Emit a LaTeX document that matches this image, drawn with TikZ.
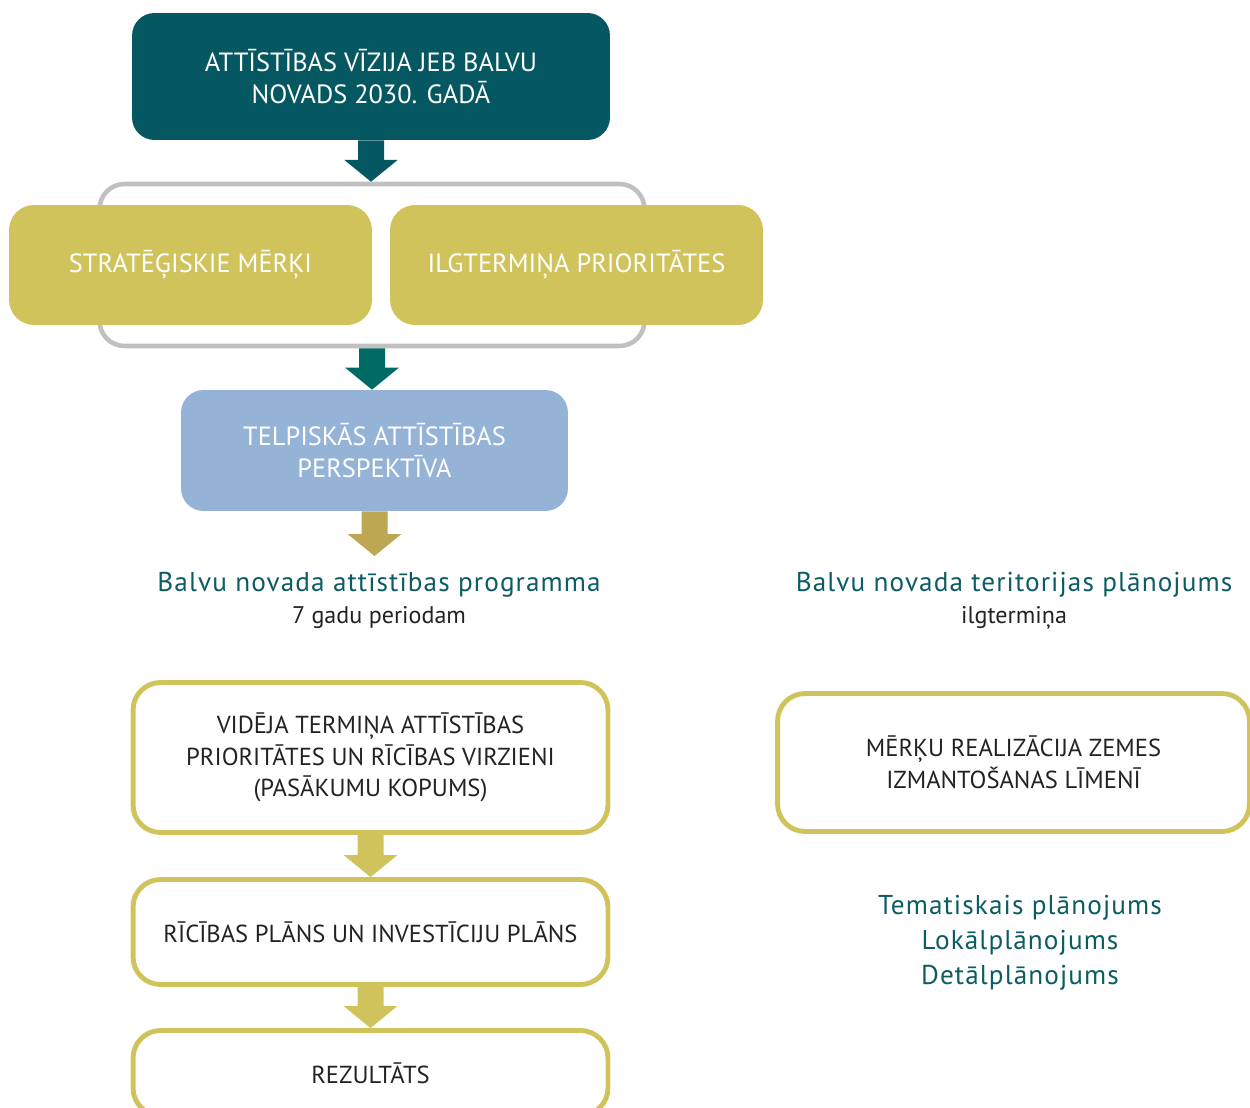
\documentclass[tikz,border=0pt]{standalone}
\usepackage{fontspec}
\setmainfont{PT Sans}
\usetikzlibrary{calc}
\definecolor{visionteal}{HTML}{055862}
\definecolor{arrowteal}{HTML}{006A64}
\definecolor{framegray}{HTML}{C0C0C0}
\definecolor{olive}{HTML}{D1C35B}
\definecolor{darkolive}{HTML}{BDA752}
\definecolor{skyblue}{HTML}{95B3D7}
\definecolor{headteal}{HTML}{0B5C63}
\definecolor{bodytext}{HTML}{222222}
\newcommand{\boxfont}{\fontsize{15}{18.1}\selectfont}
\newcommand{\bodyfont}{\fontsize{14}{18.1}\selectfont}
\newcommand{\headfont}{\addfontfeature{LetterSpace=4}\fontsize{15.5}{19.8}\selectfont}
\newcommand{\subfont}{\fontsize{13.7}{16}\selectfont}
\newcommand{\flowarrow}[3]{%
 \fill[#1] let \p1=(#2.south), \p2=(#3) in
  (\x1-7.4pt,\y1) -- (\x1+7.4pt,\y1) -- (\x1+7.4pt,\y2+12.5pt) -- (\x1+15.3pt,\y2+12.5pt)
  -- (\x1,\y2) -- (\x1-15.3pt,\y2+12.5pt) -- (\x1-7.4pt,\y2+12.5pt) -- cycle;%
}
\tikzset{
  fullbox/.style={rounded corners=0.45cm, inner sep=0pt, align=center, text=white, font=\boxfont},
  linebox/.style={draw=olive, line width=2.8pt, rounded corners=0.55cm, inner sep=0pt,
    align=center, text=bodytext, font=\bodyfont, minimum width=9.5cm},
  heading/.style={text=headteal, font=\headfont},
  subheading/.style={text=bodytext, font=\subfont}
}
\begin{document}
\begin{tikzpicture}[x=0.02cm, y=-0.02cm]
  \useasboundingbox (0,0) rectangle (1250,1108);
  % top level
  \node[fullbox, fill=visionteal, minimum width=9.56cm, minimum height=2.54cm]
    (vision) at (371,76.5) {ATTĪSTĪBAS VĪZIJA JEB BALVU\\NOVADS 2030. GADĀ};
  \node[draw=framegray, line width=2.6pt, rounded corners=0.5cm,
    minimum width=10.9cm, minimum height=3.24cm] (frame) at (372,265) {};
  \node[fullbox, fill=olive, rounded corners=0.5cm, minimum width=7.26cm, minimum height=2.4cm]
    (goals) at (190.5,265) {STRATĒĢISKIE MĒRĶI};
  \node[fullbox, fill=olive, rounded corners=0.5cm, minimum width=7.46cm, minimum height=2.4cm]
    (prior) at (576.5,265) {ILGTERMIŅA PRIORITĀTES};
  \node[fullbox, fill=skyblue, minimum width=7.74cm, minimum height=2.42cm]
    (persp) at (374.5,450.5) {TELPISKĀS ATTĪSTĪBAS\\PERSPEKTĪVA};
  \flowarrow{visionteal}{vision}{frame.north}
  \flowarrow{arrowteal}{frame}{persp.north}
  \coordinate (tip) at (373,556);
  \flowarrow{darkolive}{persp}{tip}

  % development programme
  \node[heading] (prog) at (379,585) {Balvu novada attīstības programma};
  \node[subheading] (progsub) at (379,618) {7 gadu periodam};
  \node[linebox, minimum height=3.0cm] (mid) at (370.5,757.5)
    {VIDĒJA TERMIŅA ATTĪSTĪBAS\\PRIORITĀTES UN RĪCĪBAS VIRZIENI\\(PASĀKUMU KOPUMS)};
  \node[linebox, minimum height=2.1cm] (plan) at (370.5,932)
    {RĪCĪBAS PLĀNS UN INVESTĪCIJU PLĀNS};
  \node[linebox, minimum height=1.7cm] (result) at (370.5,1073) {REZULTĀTS};
  \flowarrow{olive}{mid}{plan.north}
  \flowarrow{olive}{plan}{result.north}

  % territorial plan
  \node[heading] (terr) at (1014,585) {Balvu novada teritorijas plānojums};
  \node[subheading] (terrsub) at (1014,618) {ilgtermiņa};
  \node[linebox, minimum width=9.44cm, minimum height=2.76cm] (land) at (1013.5,762.5)
    {MĒRĶU REALIZĀCIJA ZEMES\\IZMANTOŠANAS LĪMENĪ};
  \node[heading, align=center] (types) at (1020,943)
    {Tematiskais plānojums\\Lokālplānojums\\Detālplānojums};
\end{tikzpicture}
\end{document}
